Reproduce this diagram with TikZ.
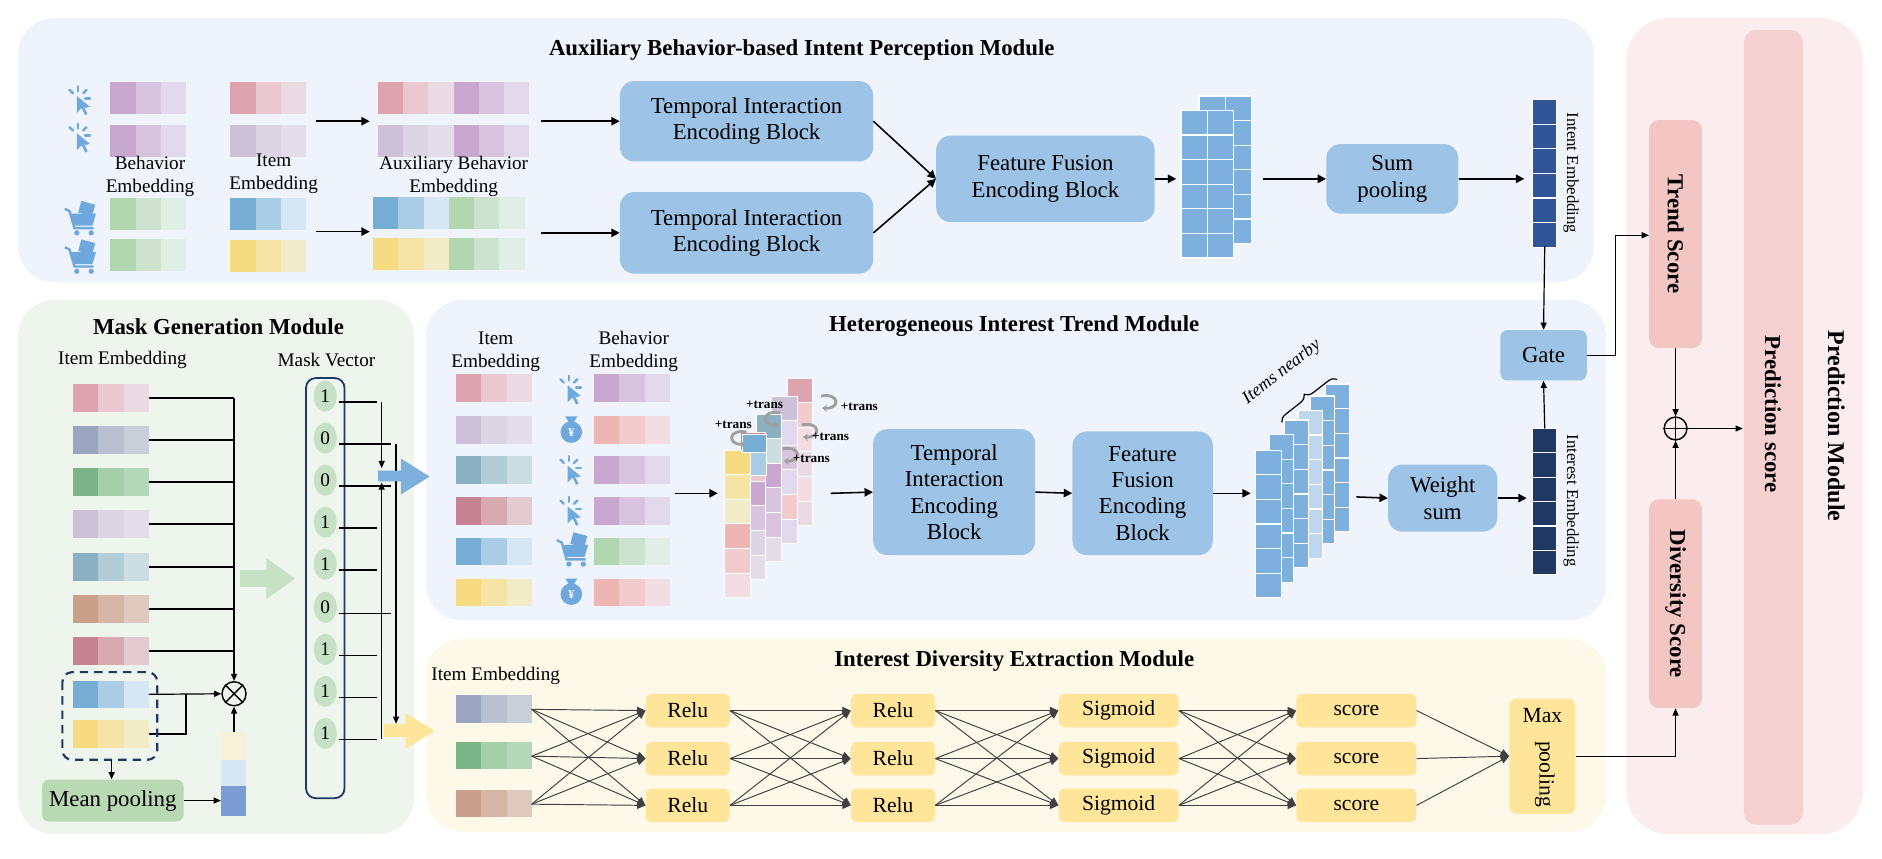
\documentclass[tikz,border=0pt]{standalone}
\usepackage{fontspec}
\setmainfont{Liberation Serif}
\usetikzlibrary{arrows.meta,calc,decorations.pathreplacing,shapes.geometric}
\definecolor{pk1}{HTML}{DDA3AE}\definecolor{pk2}{HTML}{EAC8D1}\definecolor{pk3}{HTML}{EADBE2}
\definecolor{pu1}{HTML}{C8A8CF}\definecolor{pu2}{HTML}{D9C4DF}\definecolor{pu3}{HTML}{E2D8EB}
\definecolor{lv1}{HTML}{CDC1D7}\definecolor{lv2}{HTML}{DCD5E4}\definecolor{lv3}{HTML}{E3DDEA}
\definecolor{gr1}{HTML}{B2D6AF}\definecolor{gr2}{HTML}{CDE3CF}\definecolor{gr3}{HTML}{E1EEE5}
\definecolor{bl1}{HTML}{75ADD5}\definecolor{bl2}{HTML}{A9CDE5}\definecolor{bl3}{HTML}{D6E6F4}
\definecolor{ye1}{HTML}{F6DB80}\definecolor{ye2}{HTML}{F5E4A6}\definecolor{ye3}{HTML}{F2EBC8}
\definecolor{sl1}{HTML}{9AA5C0}\definecolor{sl2}{HTML}{BAC0CF}\definecolor{sl3}{HTML}{CACED8}
\definecolor{dg1}{HTML}{7BB486}\definecolor{dg2}{HTML}{A5CFAA}\definecolor{dg3}{HTML}{B5D7B9}
\definecolor{tl1}{HTML}{8BB0C2}\definecolor{tl2}{HTML}{B3CDD6}\definecolor{tl3}{HTML}{CDDEE3}
\definecolor{br1}{HTML}{C8A08C}\definecolor{br2}{HTML}{D5B6A6}\definecolor{br3}{HTML}{DEC9BE}
\definecolor{ro1}{HTML}{C48292}\definecolor{ro2}{HTML}{D7A9B3}\definecolor{ro3}{HTML}{E1CBD0}
\definecolor{sa1}{HTML}{EDB5B4}\definecolor{sa2}{HTML}{F2CCCC}\definecolor{sa3}{HTML}{F2DEE2}
\definecolor{blkc}{HTML}{9DC3E6}
\definecolor{gridc}{HTML}{7EB0DE}
\definecolor{gridl}{HTML}{BDD7EE}
\definecolor{iconc}{HTML}{6FA8DC}
\definecolor{modblue}{HTML}{EFF4FC}
\definecolor{modgreen}{HTML}{EEF5EC}
\definecolor{modyel}{HTML}{FEF8E8}
\definecolor{modpink}{HTML}{FBEDED}
\definecolor{predbar}{HTML}{F5D0D0}
\definecolor{scorec}{HTML}{F4C6C3}
\definecolor{relc}{HTML}{FFE599}
\definecolor{meanc}{HTML}{B9D9B5}
\definecolor{navy}{HTML}{1F3864}
\definecolor{intc}{HTML}{2F5597}
\definecolor{intr}{HTML}{203864}
\definecolor{vecb}{HTML}{7C9DD3}
\newcommand\fsz[2]{\fontsize{#1}{#2}\selectfont}
\newcommand\emb[4]{\foreach \i/\c in {0/1,1/2,2/3}{\fill[#4\c] ({#1+21*\i},#2) rectangle ++(21,#3);}}
\newcommand\gcol[6]{\foreach \k in {1,...,#3}{\fill[#6,draw=white,line width=1pt] (#1,{#2+(\k-1)*#5}) rectangle ++(#4,#5);}}
\newcommand\clickicon[2]{\begin{scope}[shift={(#1,#2)}]
 \fill[iconc] (-1,-2)--(-1,12)--(3,8)--(6,14)--(8,13)--(5,7)--(10,7)--cycle;
 \foreach \a in {90,135,180,225,45}{\draw[iconc,line width=2pt,line cap=round] (\a:-6) -- (\a:-10);}
\end{scope}}
\newcommand\carticon[2]{\begin{scope}[shift={(#1,#2)}]
 \fill[iconc,rotate=-15] (-4,-14) rectangle (8,-4);
 \fill[iconc] (-9,-4)--(12,-4)--(9,6)--(-6,6)--cycle;
 \draw[iconc,line width=2pt] (-14,-8)--(-10,-6)--(-6,8)--(10,8);
 \fill[iconc] (-4,12) circle (2.2) (8,12) circle (2.2);
\end{scope}}
\newcommand\bagicon[2]{\begin{scope}[shift={(#1,#2)}]
 \fill[iconc] (0,3) circle (9);
 \fill[iconc] (-5,-10)--(5,-10)--(2,-5)--(-2,-5)--cycle;
 \node[text=white,font=\fsz{10}{10}\bfseries] at (0,3.5) {¥};
\end{scope}}
% arc: start x,y ; direction (-1 left bulge, +1 right bulge)
\newcommand\transarc[3]{\draw[gray!75,line width=2.4pt,-{Stealth[length=4pt,width=6pt]}] (#1,#2) .. controls ({#1+#3*16},{#2-3}) and ({#1+#3*16},{#2+11}) .. ({#1+#3*1},{#2+10});}
\tikzset{
 blk/.style={fill=blkc,rounded corners=12pt,align=center,inner sep=0pt,font=\fsz{19}{22}},
 arr/.style={-{Triangle[length=7pt,width=7pt]},line width=1.3pt},
 thin/.style={-{Triangle[length=6pt,width=5pt]},line width=1pt},
 fc/.style={-{Triangle[length=7pt,width=6pt]},line width=0.8pt,draw=black!75},
 lay/.style={fill=relc,rounded corners=5pt,minimum width=70pt,minimum height=28pt,inner sep=0pt,font=\fsz{18}{20}},
 lbl/.style={font=\fsz{16}{19},align=center,inner sep=0pt},
 ttl/.style={font=\fsz{19}{22}\bfseries,inner sep=0pt},
 trl/.style={font=\fsz{11}{11}\bfseries,inner sep=0},
}
\begin{document}
\begin{tikzpicture}[x=1pt,y=-1pt]
\useasboundingbox (0,0) rectangle (1568,715);
% ---------- module backgrounds
\fill[modblue,rounded corners=30pt] (15,15) rectangle (1328,235);
\fill[modgreen,rounded corners=30pt] (15,250) rectangle (345,695);
\fill[modblue,rounded corners=30pt] (355,250) rectangle (1338,517);
\fill[modyel,rounded corners=30pt] (355,532) rectangle (1338,693);
\fill[modpink,rounded corners=35pt] (1355,15) rectangle (1552,695);
\fill[predbar,rounded corners=10pt] (1453,25) rectangle (1502,687);
\node[ttl] at (668,42) {Auxiliary Behavior-based Intent Perception Module};
\node[ttl] at (182,272) {Mask Generation Module};
\node[ttl] at (845,272) {Heterogeneous Interest Trend Module};
\node[ttl] at (845,551) {Interest Diversity Extraction Module};
\node[font=\fsz{20}{22}\bfseries,rotate=-90] at (1530,355) {Prediction Module};
\node[font=\fsz{19}{22}\bfseries,rotate=-90] at (1477,345) {Prediction score};
% ---------- top module
\clickicon{65}{82}\clickicon{65}{113}\carticon{68}{182}\carticon{68}{214}
\emb{92}{68}{27}{pu}\emb{92}{104}{27}{pu}\emb{92}{165}{27}{gr}\emb{92}{199}{27}{gr}
\emb{192}{68}{27}{pk}\emb{192}{104}{27}{lv}\emb{192}{165}{27}{bl}\emb{192}{200}{27}{ye}
\emb{315}{68}{27}{pk}\emb{378}{68}{27}{pu}\emb{315}{104}{27}{lv}\emb{378}{104}{27}{pu}
\emb{311}{164}{27}{bl}\emb{374}{164}{27}{gr}\emb{311}{198}{27}{ye}\emb{374}{198}{27}{gr}
\node[lbl] (lb1) at (125,147) {Behavior\\Embedding};
\node[lbl] (lb2) at (228,145) {Item\\Embedding};
\node[lbl] (lb3) at (378,147) {Auxiliary Behavior\\Embedding};
\coordinate (a1) at (263,101);\coordinate (a1e) at (308,101);
\coordinate (a2) at (263,193);\coordinate (a2e) at (308,193);
\draw[arr] (a1)--(a1e);\draw[arr] (a2)--(a2e);
\node[blk,minimum width=211pt,minimum height=67pt] (t1) at (622,101) {Temporal Interaction\\Encoding Block};
\node[blk,minimum width=211pt,minimum height=68pt] (t2) at (622,194) {Temporal Interaction\\Encoding Block};
\coordinate (b1) at (451,101);\coordinate (b2) at (451,194);
\draw[arr] (b1)--(t1.west);\draw[arr] (b2)--(t2.west);
\node[blk,minimum width=182pt,minimum height=72pt] (f1) at (871,149) {Feature Fusion\\Encoding Block};
\draw[arr] (t1.east)--(f1.west);\draw[arr] (t2.east)--(f1.west);
\gcol{999}{80}{6}{22}{20.5}{gridc}\gcol{1021}{80}{6}{22}{20.5}{gridc}
\gcol{984}{92}{6}{22}{20.5}{gridc}\gcol{1006}{92}{6}{22}{20.5}{gridc}
\coordinate (g1) at (980,149);\draw[arr] (f1.east)--(g1);
\node[blk,minimum width=110pt,minimum height=58pt] (sp) at (1160,149) {Sum\\pooling};
\coordinate (g1o) at (1052,149);\draw[arr] (g1o)--(sp.west);
\gcol{1277}{83}{6}{20}{20.5}{intc}
\coordinate (ie) at (1270,149);\draw[arr] (sp.east)--(ie);
\node[font=\fsz{14}{16},rotate=-90] at (1309,144) {Intent Embedding};
\node[blk,rounded corners=6pt,minimum width=72pt,minimum height=42pt] (gate) at (1286,296) {Gate};
\coordinate (ieb) at (1287,205);\draw[thin] (ieb)--(gate.north);
\gcol{1277}{357}{6}{20}{20.3}{intr}
\node[font=\fsz{14}{16},rotate=-90] at (1309,417) {Interest Embedding};
\coordinate (irt) at (1287,357);\draw[thin] (irt)--(gate.south);
% ---------- prediction
\node[fill=scorec,rounded corners=8pt,minimum width=44pt,minimum height=190pt,inner sep=0] (ts) at (1396,195) {};
\node[font=\fsz{19}{22}\bfseries,rotate=-90] at (1396,195) {Trend Score};
\node[fill=scorec,rounded corners=8pt,minimum width=44pt,minimum height=174pt,inner sep=0] (ds) at (1396,503) {};
\node[font=\fsz{19}{22}\bfseries,rotate=-90] at (1396,503) {Diversity Score};
\node[circle,draw,line width=1.2pt,minimum size=19pt,inner sep=0] (op) at (1396,357) {};
\draw[line width=1.2pt] (op.north)--(op.south) (op.west)--(op.east);
\draw[thin] (ts.south)--(op.north);\draw[thin] (ds.north)--(op.south);
\coordinate (ps) at (1452,357);\draw[thin] (op.east)--(ps);
\coordinate (gk) at (1346,196);
\draw[thin] (gate.east)-|(gk)--(ts.west|-gk);
% ---------- mask generation
\node[lbl,font=\fsz{16}{18}] at (102,300) {Item Embedding};
\node[lbl,font=\fsz{16}{18}] at (272,300) {Mask Vector};
\foreach \y/\f [count=\n] in {320/pk,355/sl,390/dg,425/lv,461/tl,496/br,531/ro,567/bl,600/ye}{
  \emb{61}{\y}{23}{\f}
  \coordinate (m\n) at (124,{\y+11.5});}
\node[circle,draw,line width=1.2pt,minimum size=20pt,inner sep=0] (ot) at (195,578) {};
\draw[line width=1.2pt] (ot.north west)--(ot.south east) (ot.north east)--(ot.south west);
\coordinate (vx) at (195,0);
\foreach \n in {1,...,7}{\draw[line width=1.2pt] (m\n)--(vx|-m\n);}
\draw[thin] (vx|-m1)--(ot.north);
\draw[thin] (m8)--(ot.west);
\coordinate (m9k) at (155,578);
\draw[line width=1.2pt] (m9)-|(m9k);
\draw[navy,line width=1.8pt,dash pattern=on 7pt off 5pt,rounded corners=8pt] (52,560) rectangle (131,633);
\node[fill=meanc,rounded corners=6pt,minimum width=118pt,minimum height=35pt,inner sep=0,font=\fsz{19}{21}] (mp) at (94,667) {Mean pooling};
\coordinate (dsh) at (93,633);\draw[thin] (dsh)--(mp.north-|dsh);
\fill[ye3!70] (184,610) rectangle (205,633);\fill[bl3] (184,633) rectangle (205,655);\fill[vecb] (184,655) rectangle (205,680);
\coordinate (vt) at (195,610);\draw[thin] (vt)--(ot.south);
\coordinate (vl) at (184,667);\draw[thin] (mp.east)--(vl);
\fill[meanc!80] (200,475) rectangle (222,489) (222,465)--(246,482)--(222,499)--cycle;
\draw[navy,line width=1.5pt,rounded corners=8pt] (255,315) rectangle (287,665);
\foreach \v/\y [count=\n] in {1/330,0/365,0/400,1/435,1/470,0/506,1/541,1/576,1/611}{
  \node[fill=meanc!80,ellipse,minimum width=19pt,minimum height=26pt,inner sep=0,font=\fsz{16}{16}] (c\n) at (271,\y) {\v};}
\foreach \n in {1,4,5,7,8,9}{\draw[line width=1.2pt] ($(c\n.east)+(2,5)$)--++(31,0);}
\foreach \n in {2,3,6}{\draw[line width=1.2pt] ($(c\n.east)+(2,5)$)--++(43,0);}
\coordinate (q1) at (318,335);\coordinate (q1e) at (318,390);
\coordinate (q2) at (318,616);\coordinate (q2e) at (318,402);
\coordinate (q3) at (330,370);\coordinate (q3e) at (330,603);
\draw[thin] (q1)--(q1e);\draw[thin] (q2)--(q2e);\draw[thin] (q3)--(q3e);
\fill[gridc] (315,392) rectangle (334,401) (334,382)--(358,397)--(334,412)--cycle;
\fill[relc] (320,603) rectangle (338,614) (338,594)--(362,609)--(338,624)--cycle;
% ---------- heterogeneous trend
\node[lbl] at (413,293) {Item\\Embedding};
\node[lbl] at (528,293) {Behavior\\Embedding};
\foreach \y/\f/\g in {312/pk/pu,347/lv/sa,380/tl/pu,414/ro/pu,448/bl/gr,482/ye/sa}{
  \emb{380}{\y}{23}{\f}\emb{495}{\y}{23}{\g}}
\clickicon{474}{323}\bagicon{476}{357}\clickicon{474}{390}\clickicon{474}{424}\carticon{478}{458}\bagicon{476}{492}
\coordinate (h1) at (562,411);\coordinate (h1e) at (598,411);\draw[arr] (h1)--(h1e);
\foreach \k/\ca/\cb/\cc/\cd/\ce/\cf in {4/pk1/sa2/sa3/pk3/sa3/pk3, 3/lv1/pu3/pu2/pu3/sa2/pu3, 2/tl1/tl3/pu1/pu2/pu2/lv3, 1/ro1/pk2/pu1/pu2/lv2/lv3, 0/ye1/ye2/ye3/sa1/sa2/sa3}{
  \foreach \c [count=\j] in {\ca,\cb,\cc,\cd,\ce,\cf}{
   \fill[\c,draw=white,line width=0.8pt] ({604+13*\k},{375-15*\k+20.5*(\j-1)}) rectangle ++(21,20.5);}}
\fill[bl1,draw=white] (618,362) rectangle (638,377);
\fill[bl2,draw=white] (625,377) rectangle (638,396);
\transarc{650}{344}{-1}\node[trl] at (637,337) {+trans};
\transarc{622}{360}{-1}\node[trl] at (611,354) {+trans};
\transarc{684}{330}{1}\node[trl] at (716,339) {+trans};
\transarc{668}{354}{1}\node[trl] at (692,364) {+trans};
\transarc{652}{374}{1}\node[trl] at (676,382) {+trans};
\node[blk,minimum width=135pt,minimum height=105pt] (t3) at (795,410) {Temporal\\Interaction\\Encoding\\Block};
\coordinate (h2) at (692,411);\draw[arr] (h2)--(t3.west);
\node[blk,minimum width=117pt,minimum height=103pt] (f2) at (952,411) {Feature\\Fusion\\Encoding\\Block};
\draw[arr] (t3.east)--(f2.west);
\gcol{1104}{320}{6}{20}{20.5}{gridc}\gcol{1092}{330}{6}{20}{20.5}{gridc}\gcol{1082}{342}{6}{20}{20.5}{gridl}
\gcol{1070}{350}{6}{20}{20.5}{gridc}\gcol{1058}{362}{6}{20}{20.5}{gridc}\gcol{1046}{375}{6}{22}{20.5}{gridc}
\coordinate (g2) at (1042,411);\draw[arr] (f2.east)--(g2);
\coordinate (br1) at (1068,352);\coordinate (br2) at (1114,316);
\draw[decorate,decoration={brace,amplitude=7pt},line width=1pt] (br1)--(br2);
\node[font=\fsz{15}{16}\itshape,rotate=38] at (1068,310) {Items nearby};
\node[blk,minimum width=91pt,minimum height=56pt] (ws) at (1202,415) {Weight\\sum};
\coordinate (g2o) at (1130,414);\draw[arr] (g2o)--(ws.west);
\coordinate (ir) at (1272,415);\draw[arr] (ws.east)--(ir);
% ---------- diversity
\node[lbl,font=\fsz{16}{18}] at (413,563) {Item Embedding};
\emb{380}{579}{23}{sl}\emb{380}{618}{23}{dg}\emb{380}{658}{23}{br}
\coordinate (e1) at (443,591);\coordinate (e2) at (443,630);\coordinate (e3) at (443,670);
\foreach \y [count=\n] in {592,632,671}{
 \node[lay] (r\n) at (573,\y) {Relu};
 \node[lay] (s\n) at (744,\y) {Relu};
 \node[lay,minimum width=100pt] (g\n) at (932,\y) {Sigmoid};
 \node[lay,minimum width=100pt] (k\n) at (1130,\y) {score};}
\foreach \a in {1,2,3}{\foreach \b in {1,2,3}{
 \draw[fc] (e\a)--(r\b.west);
 \draw[fc] (r\a.east)--(s\b.west);
 \draw[fc] (s\a.east)--(g\b.west);
 \draw[fc] (g\a.east)--(k\b.west);}}
\node[fill=relc,rounded corners=6pt,minimum width=55pt,minimum height=96pt,inner sep=0] (mxp) at (1285,630) {};
\node[font=\fsz{18}{20}] at (1285,596) {Max};
\node[font=\fsz{18}{20},rotate=-90] at (1287,645) {pooling};
\foreach \a in {1,2,3}{\draw[fc] (k\a.east)--(mxp.west);}
\draw[thin] (mxp.east)-|(ds.south);
\end{tikzpicture}
\end{document}
